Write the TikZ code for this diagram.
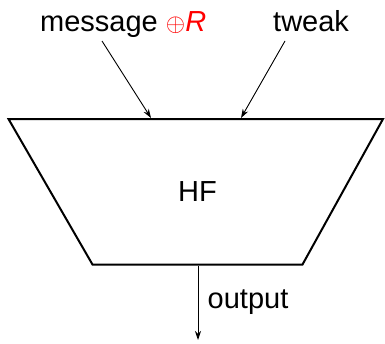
\documentclass[tikz,border=0pt]{standalone}
\usepackage{fontspec}
\setmainfont{Liberation Sans}
\usetikzlibrary{arrows.meta}
\begin{document}
\begin{tikzpicture}[x=1pt,y=-1pt,
  lbl/.style={inner sep=0pt, font=\fontsize{29}{34}\selectfont},
  feed/.style={line width=0.9pt, -{Stealth[length=9pt,width=6pt]}},
  box/.style={line width=2pt, line join=miter}]
\useasboundingbox (0,0) rectangle (385,343);

% input labels
\node[lbl, anchor=base west] (message) at (40,31)
  {message \textcolor{red}{$\oplus$\textit{R}}};
\node[lbl, anchor=base west] (tweak) at (273,31) {tweak};

% the hash function block
\coordinate (tl) at (8.5,119);
\coordinate (tr) at (383,119);
\coordinate (br) at (302.5,264.5);
\coordinate (bl) at (92.5,264.5);
\draw[box] (tl) -- (tr) -- (br) -- (bl) -- cycle;
\node[lbl] (hf) at (197.5,192) {HF};

% feeds into the block
\coordinate (msgfrom) at (102,41);
\coordinate (msgto) at (151,118);
\coordinate (twkfrom) at (285,41);
\coordinate (twkto) at (241,118);
\draw[feed] (msgfrom) -- (msgto);
\draw[feed] (twkfrom) -- (twkto);

% output
\coordinate (outfrom) at (198,265.5);
\coordinate (outto) at (198,340);
\draw[feed] (outfrom) -- (outto);
\node[lbl, anchor=base west] (output) at (207.5,308) {output};
\end{tikzpicture}
\end{document}
